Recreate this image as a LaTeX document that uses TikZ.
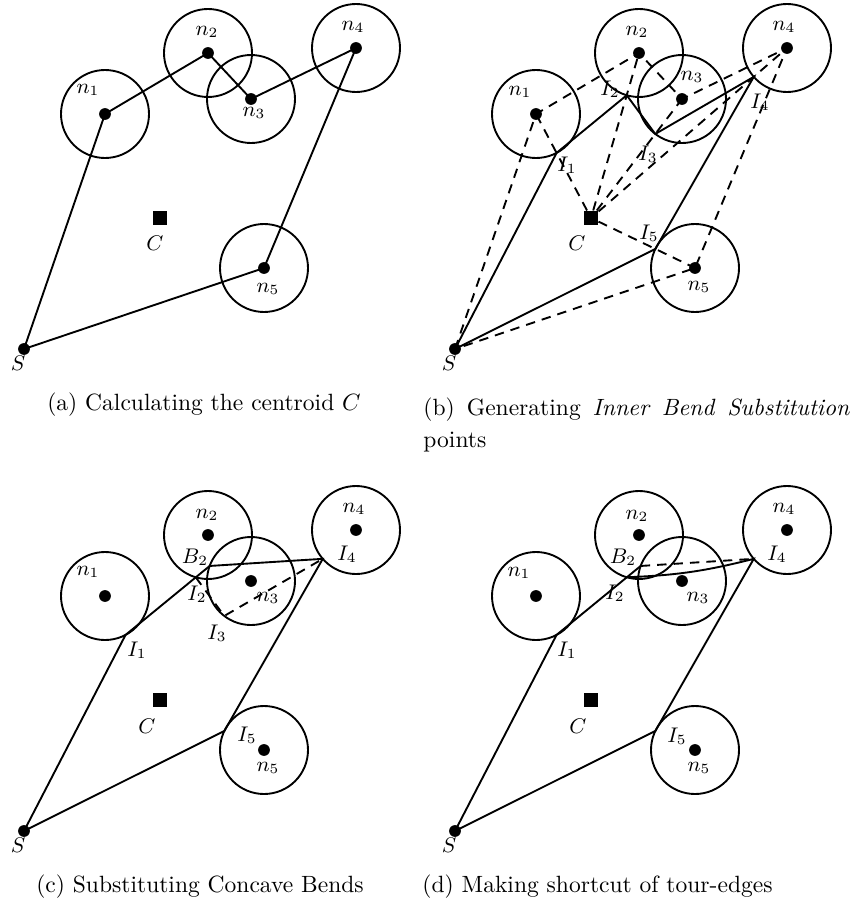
\documentclass[tikz,border=0pt]{standalone}
\usepackage{amsmath, amssymb}
\usepackage{tikz}
\usetikzlibrary{calc}

\tikzset{
  ring/.style={thick},
  tour/.style={thick},
  oldtour/.style={thick, dash pattern=on 4pt off 3pt},
  lbl/.style={font=\small, inner sep=0pt},
  centre/.style={fill, rectangle, inner sep=0pt, minimum size=6pt},
  caption/.style={font=\fontsize{10}{13.6}\selectfont, inner sep=0pt}
}
\def\rad{18.7pt}
\def\dotr{2.5pt}

\begin{document}
\begin{tikzpicture}[x=0.425pt, y=-0.425pt]
  \useasboundingbox (0,0) rectangle (850,905);
  % points communs
  \foreach \p/\dx/\dy in {a/0/0, b/431/0, c/0/482, d/431/482}{
    \begin{scope}[shift={(\dx,\dy)}]
      \coordinate (\p-S) at (24,349);
      \coordinate (\p-n1) at (105,114);
      \coordinate (\p-n2) at (208,53);
      \coordinate (\p-n3) at (251,99);
      \coordinate (\p-n4) at (356,48);
      \coordinate (\p-n5) at (264,268);
      \node[centre] (\p-C) at (160,218) {};
      \node[lbl] (\p-lS) at (18,363) {$S$};
    \end{scope}
    \foreach \i in {1,...,5}{
      \draw[ring] (\p-n\i) circle[radius=\rad];
      \fill (\p-n\i) circle[radius=\dotr];
      \coordinate (\p-I\i) at ($(\p-n\i)!\rad!(\p-C)$);
    }
    \fill (\p-S) circle[radius=\dotr];
    \coordinate (\p-B2) at ($(\p-n3)+(160:\rad)$);
  }

  % (a) centroide
  \draw[tour] (a-S) -- (a-n1) -- (a-n2) -- (a-n3) -- (a-n4) -- (a-n5) -- (a-S);
  \node[lbl] (a-l1) at (88,90) {$n_1$};
  \node[lbl] (a-l2) at (207,32) {$n_2$};
  \node[lbl] (a-l3) at (254,113) {$n_3$};
  \node[lbl] (a-l4) at (353,27) {$n_4$};
  \node[lbl] (a-l5) at (268,289) {$n_5$};
  \node[lbl] (a-lC) at (155,243) {$C$};
  \node[caption] (a-cap) at (204,405) {(a) Calculating the centroid $C$};

  % (b) points de substitution
  \draw[oldtour] (b-S) -- (b-n1) -- (b-n2) -- (b-n3) -- (b-n4) -- (b-n5) -- (b-S);
  \foreach \i in {1,...,5}
    \draw[oldtour] (b-C) -- (b-n\i);
  \draw[tour] (b-S) -- (b-I1) -- (b-I2) -- (b-I3) -- (b-I4) -- (b-I5) -- (b-S);
  \begin{scope}[shift={(431,0)}]
    \node[lbl] (b-l1) at (89,92) {$n_1$};
    \node[lbl] (b-l2) at (206,32) {$n_2$};
    \node[lbl] (b-l3) at (261,77) {$n_3$};
    \node[lbl] (b-l4) at (353,27) {$n_4$};
    \node[lbl] (b-l5) at (268,287) {$n_5$};
    \node[lbl] (b-lC) at (146,243) {$C$};
    \node[lbl] (b-lI1) at (136,165) {$I_1$};
    \node[lbl] (b-lI2) at (179,89) {$I_2$};
    \node[lbl] (b-lI3) at (217,154) {$I_3$};
    \node[lbl] (b-lI4) at (329,102) {$I_4$};
    \node[lbl] (b-lI5) at (218,233) {$I_5$};
    \node[caption, text width=181pt, align=justify, anchor=north west] (b-cap) at (-8,397)
      {(b) Generating \textit{Inner Bend Substitution} points};
  \end{scope}

  % (c) substitution des coudes concaves
  \draw[tour] (c-S) -- (c-I1) -- (c-B2) -- (c-I4) -- (c-I5) -- (c-S);
  \draw[oldtour] (c-I2) -- (c-I3) -- (c-I4);
  \begin{scope}[shift={(0,482)}]
    \node[lbl] (c-l1) at (88,90) {$n_1$};
    \node[lbl] (c-l2) at (207,33) {$n_2$};
    \node[lbl] (c-l3) at (268,116) {$n_3$};
    \node[lbl] (c-l4) at (354,27) {$n_4$};
    \node[lbl] (c-l5) at (268,286) {$n_5$};
    \node[lbl] (c-lC) at (147,244) {$C$};
    \node[lbl] (c-lI1) at (137,168) {$I_1$};
    \node[lbl] (c-lI2) at (197,112) {$I_2$};
    \node[lbl] (c-lI3) at (217,151) {$I_3$};
    \node[lbl] (c-lI4) at (347,72) {$I_4$};
    \node[lbl] (c-lI5) at (247,253) {$I_5$};
    \node[lbl] (c-lB2) at (195,75) {$B_2$};
    \node[caption] (c-cap) at (200,405) {(c) Substituting Concave Bends};
  \end{scope}

  % (d) raccourci
  \draw[tour] (d-S) -- (d-I1) -- (d-B2);
  \draw[tour] (d-I2) to[bend right=6] (d-I4) -- (d-I5) -- (d-S);
  \draw[oldtour] (d-B2) -- (d-I4);
  \begin{scope}[shift={(431,482)}]
    \node[lbl] (d-l1) at (88,91) {$n_1$};
    \node[lbl] (d-l2) at (206,34) {$n_2$};
    \node[lbl] (d-l3) at (267,116) {$n_3$};
    \node[lbl] (d-l4) at (353,27) {$n_4$};
    \node[lbl] (d-l5) at (268,286) {$n_5$};
    \node[lbl] (d-lC) at (147,244) {$C$};
    \node[lbl] (d-lI1) at (136,168) {$I_1$};
    \node[lbl] (d-lI2) at (184,111) {$I_2$};
    \node[lbl] (d-lI4) at (346,72) {$I_4$};
    \node[lbl] (d-lI5) at (246,254) {$I_5$};
    \node[lbl] (d-lB2) at (192,75) {$B_2$};
    \node[caption, anchor=west] (d-cap) at (-9,405) {(d) Making shortcut of tour-edges};
  \end{scope}
\end{tikzpicture}
\end{document}
